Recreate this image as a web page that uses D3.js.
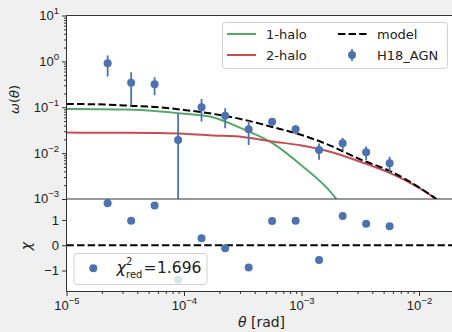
<!DOCTYPE html>
<html>
<head>
<meta charset="utf-8">
<script src="https://cdn.jsdelivr.net/npm/d3@7"></script>
<style>
    body { margin: 0; background: #f0f0f0; }
    svg { display: block; font-family: "DejaVu Sans", sans-serif; }
</style>
</head>
<body>
<div id="chart"></div>
<script>

// measured clustering (H18_AGN), theta in rad
let binTheta = [2.24e-5, 3.55e-5, 5.62e-5, 8.91e-5, 1.41e-4, 2.24e-4, 3.55e-4, 5.62e-4, 8.91e-4, 1.41e-3, 2.24e-3, 3.55e-3, 5.62e-3];
let wTheta = [0.91, 0.344, 0.316, 0.0194, 0.100, 0.065, 0.033, 0.0486, 0.033, 0.0117, 0.0164, 0.0105, 0.0060];
let wErr = [0.44, 0.236, 0.134, 0.055, 0.051, 0.030, 0.018, 0.0085, 0.0075, 0.0045, 0.005, 0.0034, 0.0023];
let chiVals = [1.66, 0.97, 1.57, -1.37, 0.28, -0.12, -0.88, 0.96, 0.97, -0.58, 1.16, 0.85, 0.75];

let modelTheta = [1e-5, 1.78e-5, 3.16e-5, 5.62e-5, 1e-4, 1.78e-4, 3.16e-4, 5.62e-4, 1e-3, 1.78e-3, 3.16e-3, 5.62e-3, 1e-2, 1.78e-2, 2.24e-2];
let oneHalo = [0.0918, 0.091, 0.089, 0.083, 0.072, 0.060, 0.0337, 0.0167, 0.0054, 0.0014, 0.00017];
let twoHalo = [0.028, 0.0279, 0.0278, 0.0274, 0.0265, 0.0243, 0.0225, 0.018, 0.0147, 0.0106, 0.0065, 0.0037, 0.00174, 0.00064, 0.00041];
let model = [0.118, 0.116, 0.109, 0.1016, 0.0873, 0.0714, 0.0542, 0.0372, 0.0249, 0.0144, 0.0073, 0.0041, 0.0018, 0.00064, 0.00041];

let xTicks = [1e-5, 1e-4, 1e-3, 1e-2];
let yTopTicks = [1e-3, 1e-2, 1e-1, 1, 10];
let yBotTicks = [-1, 0, 1];
let chiRed = '1.696';

let width = 452,
    height = 332,
    left = 66.5,
    right = 457,
    topY = 15.5,
    midY = 199,
    botY = 291.5;

let blue = '#4c72b0',
    green = '#55a868',
    red = '#c44e52',
    axisCol = '#333';

let x = d3.scaleLog().domain([1e-5, 0.02105]).range([left, right]);
let yTop = d3.scaleLog().domain([1e-3, 10]).range([midY, topY]);
let yBot = d3.scaleLinear().domain([-1.83, 1.83]).range([botY, midY]);

let svg = d3.select('#chart').append('svg')
    .attr('width', width)
    .attr('height', height);

svg.append('defs').append('clipPath')
    .attr('id', 'clipTop')
    .append('rect')
    .attr('x', left).attr('y', topY)
    .attr('width', right - left).attr('height', midY - topY);

// panel backgrounds
svg.append('rect').attr('x', left).attr('y', topY).attr('width', right - left).attr('height', midY - topY).attr('fill', '#fff');
svg.append('rect').attr('x', left).attr('y', midY).attr('width', right - left).attr('height', botY - midY).attr('fill', '#fff');

// superscript labels like 10^-3
function powLabel(sel) {
    sel.selectAll('.tick text').each(function(d) {
        let t = d3.select(this).text(null);
        let e = Math.round(Math.log10(d));
        t.append('tspan').text('10');
        t.append('tspan')
            .attr('dy', -6)
            .attr('font-size', 9.5)
            .text(e < 0 ? '\u2212' + (-e) : e);
    });
}

function minorTicks(lo, hi) {
    let out = [];
    for (let e = lo; e < hi; e++) {
        for (let m = 2; m < 10; m++) out.push(m * Math.pow(10, e));
    }
    return out;
}

// top panel y axis
let gyTop = svg.append('g')
    .attr('transform', 'translate(' + left + ',0)')
    .attr('color', axisCol)
    .style('font-size', '13px')
    .call(d3.axisLeft(yTop).tickValues(yTopTicks).tickSize(4.5).tickSizeOuter(0).tickPadding(3))
    .call(powLabel);
gyTop.selectAll('text').attr('fill', '#222').attr('dy', '0.3em');
gyTop.select('.domain').remove();

svg.append('g')
    .attr('transform', 'translate(' + left + ',0)')
    .attr('color', axisCol)
    .call(d3.axisLeft(yTop).tickValues(minorTicks(-3, 1)).tickSize(2.5).tickSizeOuter(0).tickFormat(''))
    .select('.domain').remove();

// bottom panel y axis
let gyBot = svg.append('g')
    .attr('transform', 'translate(' + left + ',0)')
    .attr('color', axisCol)
    .style('font-size', '13px')
    .call(d3.axisLeft(yBot).tickValues(yBotTicks).tickSize(4.5).tickSizeOuter(0).tickPadding(3)
        .tickFormat(function(d) { return d < 0 ? '\u2212' + (-d) : d; }));
gyBot.selectAll('text').attr('fill', '#222');
gyBot.select('.domain').remove();

// shared x axis
let gx = svg.append('g')
    .attr('transform', 'translate(0,' + botY + ')')
    .attr('color', axisCol)
    .style('font-size', '13px')
    .call(d3.axisBottom(x).tickValues(xTicks).tickSize(4.5).tickSizeOuter(0).tickPadding(5))
    .call(powLabel);
gx.selectAll('text').attr('fill', '#222');
gx.select('.domain').remove();

svg.append('g')
    .attr('transform', 'translate(0,' + botY + ')')
    .attr('color', axisCol)
    .call(d3.axisBottom(x).tickValues(minorTicks(-5, -1).filter(function(v) { return v < 0.021; })).tickSize(2.5).tickFormat(''))
    .select('.domain').remove();

// model curves
let plotTop = svg.append('g').attr('clip-path', 'url(#clipTop)');

let line = d3.line()
    .x(function(d, i) { return x(modelTheta[i]); })
    .y(function(d) { return yTop(d); })
    .curve(d3.curveMonotoneX);

plotTop.append('path').datum(oneHalo).attr('d', line)
    .attr('fill', 'none').attr('stroke', green).attr('stroke-width', 2);
plotTop.append('path').datum(twoHalo).attr('d', line)
    .attr('fill', 'none').attr('stroke', red).attr('stroke-width', 2);
plotTop.append('path').datum(model).attr('d', line)
    .attr('fill', 'none').attr('stroke', '#000').attr('stroke-width', 2).attr('stroke-dasharray', '7.4,3.2');

// data with error bars
plotTop.selectAll('.err')
    .data(wTheta)
    .enter()
    .append('line')
    .classed('err', true)
    .attr('x1', function(d, i) { return x(binTheta[i]); })
    .attr('x2', function(d, i) { return x(binTheta[i]); })
    .attr('y1', function(d, i) { return yTop(d + wErr[i]); })
    .attr('y2', function(d, i) { return d - wErr[i] > 0 ? yTop(d - wErr[i]) : midY + 5; })
    .attr('stroke', blue)
    .attr('stroke-width', 1.8);

plotTop.selectAll('.pt')
    .data(wTheta)
    .enter()
    .append('circle')
    .classed('pt', true)
    .attr('cx', function(d, i) { return x(binTheta[i]); })
    .attr('cy', function(d) { return yTop(d); })
    .attr('r', 4)
    .attr('fill', blue);

// residual panel
svg.append('line')
    .attr('x1', left).attr('x2', right)
    .attr('y1', yBot(0)).attr('y2', yBot(0))
    .attr('stroke', '#000').attr('stroke-width', 2).attr('stroke-dasharray', '7.4,3.2');

svg.selectAll('.chi')
    .data(chiVals)
    .enter()
    .append('circle')
    .classed('chi', true)
    .attr('cx', function(d, i) { return x(binTheta[i]); })
    .attr('cy', function(d) { return yBot(d); })
    .attr('r', 4)
    .attr('fill', blue);

// spines
let spineG = svg.append('g').attr('stroke', axisCol).attr('stroke-width', 1);
spineG.append('line').attr('x1', left).attr('x2', left).attr('y1', topY).attr('y2', botY);
spineG.append('line').attr('x1', left).attr('x2', right).attr('y1', topY).attr('y2', topY);
spineG.append('line').attr('x1', left).attr('x2', right).attr('y1', midY).attr('y2', midY);
spineG.append('line').attr('x1', left).attr('x2', right).attr('y1', botY).attr('y2', botY);

// legend of the top panel
let leg = svg.append('g').style('font-size', '13px').attr('fill', '#222');
leg.append('rect')
    .attr('x', 222.5).attr('y', 22.5).attr('width', 225).attr('height', 46).attr('rx', 3)
    .attr('fill', '#fff').attr('fill-opacity', 0.8).attr('stroke', '#d0d0d0');

let legItems = [
    { label: '1-halo', col: green, dash: null, lx: 227, tx: 266, ty: 34 },
    { label: '2-halo', col: red, dash: null, lx: 227, tx: 266, ty: 55 },
    { label: 'model', col: '#000', dash: '7.4,3.2', lx: 338, tx: 377, ty: 34 }
];
legItems.forEach(function(d) {
    leg.append('line')
        .attr('x1', d.lx).attr('x2', d.lx + 29)
        .attr('y1', d.ty).attr('y2', d.ty)
        .attr('stroke', d.col).attr('stroke-width', 2)
        .attr('stroke-dasharray', d.dash);
    leg.append('text').attr('x', d.tx).attr('y', d.ty + 4.7).text(d.label);
});
leg.append('line').attr('x1', 352).attr('x2', 352).attr('y1', 49).attr('y2', 61)
    .attr('stroke', blue).attr('stroke-width', 1.8);
leg.append('circle').attr('cx', 352).attr('cy', 55).attr('r', 4).attr('fill', blue);
leg.append('text').attr('x', 377).attr('y', 59.7).text('H18_AGN');

// legend of the residual panel
let leg2 = svg.append('g').attr('fill', '#222');
leg2.append('rect')
    .attr('x', 74).attr('y', 253.5).attr('width', 133).attr('height', 31).attr('rx', 3)
    .attr('fill', '#fff').attr('fill-opacity', 0.8).attr('stroke', '#d0d0d0');
leg2.append('circle').attr('cx', 93.3).attr('cy', 268.3).attr('r', 4).attr('fill', blue);
leg2.append('text').attr('x', 116.5).attr('y', 273).style('font-size', '16px').style('font-style', 'italic').text('\u03c7');
leg2.append('text').attr('x', 126).attr('y', 265).style('font-size', '10px').text('2');
leg2.append('text').attr('x', 126).attr('y', 278).style('font-size', '10px').text('red');
leg2.append('text').attr('x', 143.5).attr('y', 273).style('font-size', '15.5px').text('=');
leg2.append('text').attr('x', 157).attr('y', 273).style('font-size', '15.5px').text(chiRed);

// axis labels
svg.append('text')
    .attr('transform', 'translate(19,99.5) rotate(-90)')
    .attr('text-anchor', 'middle')
    .style('font-size', '13px').attr('fill', '#222')
    .html('<tspan font-style="italic">\u03c9</tspan>(<tspan font-style="italic">\u03b8</tspan>)');

svg.append('text')
    .attr('transform', 'translate(31,246) rotate(-90)')
    .attr('text-anchor', 'middle')
    .style('font-size', '14px').style('font-style', 'italic').attr('fill', '#222')
    .text('\u03c7');

svg.append('text')
    .attr('x', 261.5).attr('y', 327)
    .attr('text-anchor', 'middle')
    .style('font-size', '14px').attr('fill', '#222')
    .html('<tspan font-style="italic">\u03b8</tspan> [rad]');

</script>
</body>
</html>
